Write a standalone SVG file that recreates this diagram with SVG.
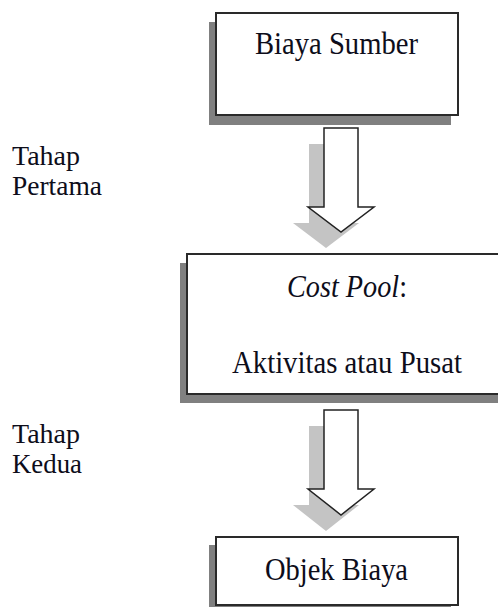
<svg xmlns="http://www.w3.org/2000/svg" width="498" height="607" viewBox="0 0 498 607">
<style>
.box{fill:#fff;stroke:#2a2a2a;stroke-width:2}
.bshadow{fill:#808080}
.ashadow{fill:#c4c4c4}
.arrow{fill:#fff;stroke:#222;stroke-width:1.5;stroke-linejoin:miter}
text{font-family:'Liberation Serif','Times New Roman',Times,'DejaVu Serif',serif;font-size:31px;fill:#0d0d1a}
.lbl{font-size:27px}
</style>
<rect width="498" height="607" fill="#fff"/>
<g id="connectors">
  <polygon class="ashadow" points="309,144 343,144 343,223 359,223 326,248 293,223 309,223"/>
  <polygon class="arrow" points="324,128 358,128 358,207 374,207 341,232 308,207 324,207"/>
  <polygon class="ashadow" points="309,426 343,426 343,505 359,505 326,531 293,505 309,505"/>
  <polygon class="arrow" points="324,410 358,410 358,489 374,489 341,515 308,489 324,489"/>
</g>
<g id="biaya-sumber">
  <rect class="bshadow" x="209" y="22" width="242" height="103"/>
  <rect class="box" x="216" y="13" width="242" height="102"/>
  <text x="255" y="54" textLength="163" lengthAdjust="spacingAndGlyphs">Biaya Sumber</text>
</g>
<g id="cost-pool">
  <rect class="bshadow" x="180" y="263" width="330" height="140"/>
  <rect class="box" x="187" y="254" width="330" height="140"/>
  <text x="287" y="297" textLength="120" lengthAdjust="spacingAndGlyphs"><tspan font-style="italic">Cost Pool</tspan>:</text>
  <text x="232" y="373" textLength="230" lengthAdjust="spacingAndGlyphs">Aktivitas atau Pusat</text>
</g>
<g id="objek-biaya">
  <rect class="bshadow" x="209" y="545" width="242" height="70"/>
  <rect class="box" x="216" y="537" width="242" height="68"/>
  <text x="265" y="580" textLength="143" lengthAdjust="spacingAndGlyphs">Objek Biaya</text>
</g>
<g id="label-tahap-pertama">
  <text class="lbl" x="12" y="165" textLength="68" lengthAdjust="spacingAndGlyphs">Tahap</text>
  <text class="lbl" x="12" y="195" textLength="90" lengthAdjust="spacingAndGlyphs">Pertama</text>
</g>
<g id="label-tahap-kedua">
  <text class="lbl" x="12" y="443" textLength="68" lengthAdjust="spacingAndGlyphs">Tahap</text>
  <text class="lbl" x="12" y="473" textLength="70" lengthAdjust="spacingAndGlyphs">Kedua</text>
</g>
</svg>
